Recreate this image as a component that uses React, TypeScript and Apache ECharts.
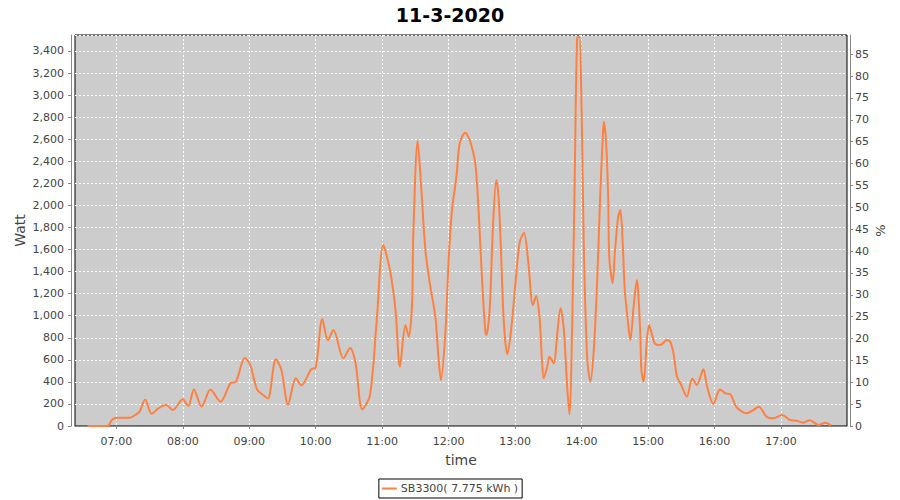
import React, { useEffect, useRef } from 'react';
import * as echarts from 'echarts';

const chartTitle = '11-3-2020';
const seriesName = 'SB3300( 7.775 kWh )';
const xTickLabels = ['07:00', '08:00', '09:00', '10:00', '11:00', '12:00', '13:00', '14:00', '15:00', '16:00', '17:00'];

const times = ['06:34','06:52','06:56','07:00','07:12','07:17','07:21','07:26','07:32','07:38','07:45','07:51','08:00','08:05','08:10','08:17','08:25','08:34','08:43','08:48','08:56','09:01','09:07','09:14','09:17','09:24','09:29','09:35','09:42','09:47','09:56','10:00','10:06','10:11','10:16','10:25','10:31','10:36','10:42','10:49','10:55','11:01','11:07','11:12','11:16','11:21','11:24','11:27','11:28','11:32','11:35','11:39','11:43','11:48','11:51','11:53','11:57','12:00','12:03','12:07','12:10','12:15','12:19','12:24','12:27','12:30','12:33','12:34','12:37','12:40','12:43','12:45','12:47','12:49','12:51','12:53','12:57','13:00','13:04','13:08','13:12','13:16','13:19','13:22','13:26','13:29','13:31','13:35','13:37','13:41','13:44','13:47','13:49','13:52','13:54','13:56','13:58','14:00','14:02','14:05','14:08','14:11','14:14','14:17','14:19','14:20','14:22','14:24','14:25','14:28','14:30','14:33','14:35','14:37','14:39','14:42','14:44','14:47','14:50','14:51','14:53','14:54','14:56','14:59','15:01','15:06','15:11','15:17','15:20','15:23','15:26','15:30','15:35','15:40','15:44','15:50','15:53','15:59','16:05','16:10','16:14','16:20','16:29','16:35','16:40','16:47','16:53','17:01','17:08','17:14','17:20','17:26','17:34','17:40','17:45'];

const watts = [0,0,55,75,75,100,130,240,110,160,190,145,242,181,332,175,332,220,387,402,617,553,332,270,250,605,510,195,432,368,515,530,970,776,870,614,707,568,150,280,950,1641,1414,1052,538,916,810,1112,1716,2587,2200,1596,1294,991,598,417,840,1505,1958,2260,2563,2659,2593,2382,1958,1354,870,825,1052,1807,2230,2079,1656,1100,780,650,931,1263,1656,1753,1475,1097,1179,991,432,538,628,568,719,1067,870,356,105,1172,2382,3515,3530,2865,1626,628,402,689,1294,2140,2593,2759,2593,2079,1535,1294,1566,1898,1958,1686,1233,931,780,1082,1324,1233,840,508,402,780,916,750,734,780,764,659,450,372,266,430,372,514,370,199,332,296,290,170,115,145,175,84,70,100,54,48,30,52,9,30,6];

const toMin = (t: string) => {
  const [h, m] = t.split(':').map(Number);
  return h * 60 + m;
};
const pad = (n: number) => (n < 10 ? '0' + n : '' + n);
const fmt = (v: number) => pad(Math.floor(v / 60)) + ':' + pad(Math.round(v % 60));

const FONT = 'DejaVu Sans';

export default function App() {
  const ref = useRef<HTMLDivElement>(null);
  useEffect(() => {
    const chart = echarts.init(ref.current!, null, { renderer: 'svg' });
    const tickVals = xTickLabels.map(toMin);
    const data = times.map((t, i) => [toMin(t), watts[i]]);
    chart.setOption({
      animation: false,
      backgroundColor: '#ffffff',
      title: {
        text: chartTitle,
        left: 'center',
        top: 0,
        textStyle: { fontFamily: FONT, fontSize: 19, fontWeight: 'bold', color: '#000' },
      },
      legend: {
        data: [seriesName],
        left: 'center',
        bottom: 2,
        borderColor: '#000',
        borderWidth: 1,
        padding: [4, 4, 4, 3],
        icon: 'rect',
        itemWidth: 15,
        itemHeight: 2,
        itemGap: 4,
        textStyle: { fontFamily: FONT, fontSize: 11, color: '#444', padding: [0, 0, 0, -1] },
      },
      grid: {
        left: 75,
        right: 53,
        top: 35,
        bottom: 74,
        show: true,
        backgroundColor: '#cccccc',
        borderColor: '#000',
        borderWidth: 1,
        containLabel: false,
        outerBoundsMode: 'none',
      },
      xAxis: {
        type: 'value',
        min: 382.7,
        max: 1079.6,
        name: 'time',
        nameLocation: 'middle',
        nameGap: 23,
        nameMoveOverlap: false,
        nameTextStyle: { fontFamily: FONT, fontSize: 14, color: '#444' },
        offset: 4,
        axisLine: { show: true, lineStyle: { color: '#888', width: 1 } },
        axisTick: { show: true, length: 3, lineStyle: { color: '#888' }, customValues: tickVals },
        axisLabel: {
          customValues: tickVals,
          formatter: (v: number) => fmt(v),
          fontFamily: FONT,
          fontSize: 11,
          color: '#444',
          margin: 6,
        },
        splitLine: { show: true, lineStyle: { color: '#ffffff', type: [2, 2], width: 1 } },
      },
      yAxis: [
        {
          type: 'value',
          min: 0,
          max: 3545,
          interval: 200,
          name: 'Watt',
          nameLocation: 'middle',
          nameGap: 44,
          nameMoveOverlap: false,
          nameTextStyle: { fontFamily: FONT, fontSize: 14, color: '#444' },
          offset: 4,
          axisLine: { show: true, lineStyle: { color: '#888', width: 1 } },
          axisTick: { show: true, length: 3, lineStyle: { color: '#888' } },
          axisLabel: {
            fontFamily: FONT,
            fontSize: 11,
            color: '#444',
            margin: 7,
            showMaxLabel: false,
            formatter: (v: number) => v.toLocaleString('en-US'),
          },
          splitLine: { show: true, lineStyle: { color: '#ffffff', type: [2, 2], width: 1 } },
        },
        {
          type: 'value',
          min: 0,
          max: 89.4,
          interval: 5,
          name: '%',
          nameLocation: 'middle',
          nameGap: 24,
          nameMoveOverlap: false,
          nameTextStyle: { fontFamily: FONT, fontSize: 13, color: '#444' },
          position: 'right',
          offset: 3,
          axisLine: { show: true, lineStyle: { color: '#888', width: 1 } },
          axisTick: { show: true, length: 3, lineStyle: { color: '#888' } },
          axisLabel: { fontFamily: FONT, fontSize: 11, color: '#444', margin: 5, showMaxLabel: false },
          splitLine: { show: false },
        },
      ],
      series: [
        {
          name: seriesName,
          type: 'line',
          data,
          showSymbol: false,
          symbol: 'none',
          smooth: 0.3,
          color: '#ff8040',
          lineStyle: { color: '#ff8040', width: 2 },
        },
      ],
    });
    return () => chart.dispose();
  }, []);
  return <div ref={ref} style={{ position: 'fixed', left: 0, top: 0, width: 900, height: 500 }} />;
}
